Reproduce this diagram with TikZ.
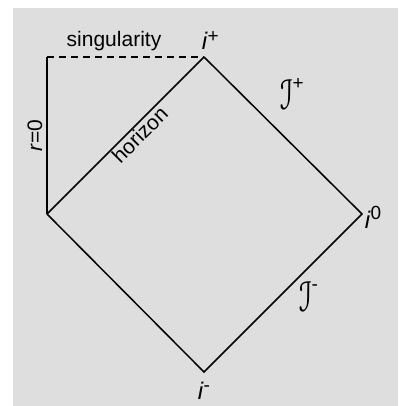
\documentclass[tikz,border=0pt]{standalone}
\usepackage{fontspec}
\usepackage[mathscr]{eucal}
\setmainfont{Liberation Sans}
\usetikzlibrary{calc}
\definecolor{bg}{RGB}{222,222,222}
\newcommand\sups[2][8pt]{\raisebox{#1}{\fontsize{19}{19}\selectfont #2}}
\newcommand\scri{\scalebox{1}[1.45]{\fontsize{30}{32}\selectfont$\mathscr{I}$}}
\begin{document}
\begin{tikzpicture}[x=1pt,y=-1pt,line width=1.5pt,
  lab/.style={inner sep=0pt,font=\fontsize{21}{25}\selectfont},
  ilab/.style={inner sep=0pt,font=\fontsize{24}{28}\selectfont}]
\useasboundingbox (0,0) rectangle (398,406);
\fill[bg] (13,8) rectangle (398,406);
\coordinate (tl) at (47,57);
\coordinate (top) at (204,57);
\coordinate (left) at (47,214);
\coordinate (right) at (362,214);
\coordinate (bot) at (204,372);
\draw[dash pattern=on 7pt off 5pt] (tl) -- (top);
\draw (tl) -- (left) node[lab,midway,rotate=90,anchor=south,yshift=4pt] (r0) {\textit{r}=0};
\draw (left) -- (top) node[lab,pos=0.548,sloped,anchor=north,yshift=-1pt] (hor) {horizon};
\draw (top) -- (right) -- (bot) -- (left);
\node[lab,anchor=base] (sing) at ($(tl)!0.5!(top)+(-11.5,-10)$) {singularity};
\node[ilab,anchor=base west] (ip) at ($(top)+(-3,-7)$) {\textit{i}\sups[7.5pt]{+}};
\node[ilab,anchor=base west] (i0) at ($(right)+(2,14)$) {\textit{i}\sups[8.5pt]{0}};
\node[ilab,anchor=base west] (im) at ($(bot)+(-7,27)$) {\textit{i}\sups[8pt]{-}};
\node[ilab,anchor=base west] (sp) at (279,110) {\scri\sups[20pt]{+}};
\node[ilab,anchor=base west] (sm) at (298,311) {\scri\sups[21pt]{-}};
\end{tikzpicture}
\end{document}
